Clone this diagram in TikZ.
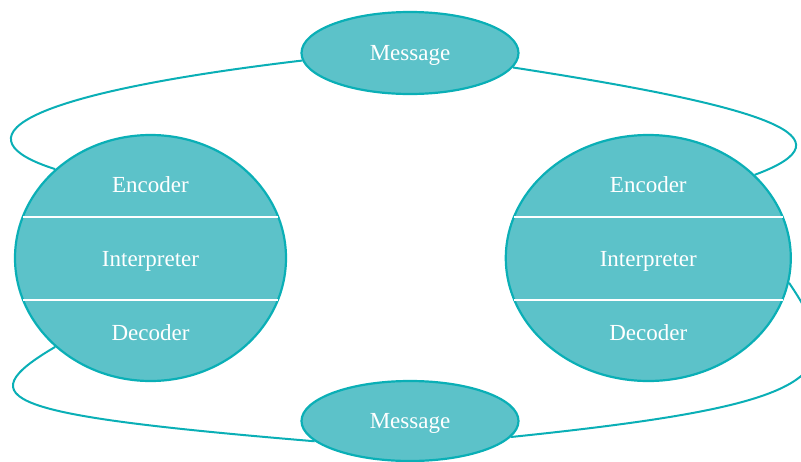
\documentclass[tikz,border=0pt]{standalone}
\usepackage{fontspec}
\setmainfont{Liberation Serif}
\usepackage{tikz}
\usetikzlibrary{shapes,calc}
\definecolor{tealfill}{RGB}{92,194,201}
\definecolor{tealline}{RGB}{10,175,182}
\tikzstyle{party} = [ellipse, draw=tealline, fill=tealfill, line width=2.2pt, minimum width=271pt, minimum height=246pt, inner sep=0pt]
\tikzstyle{message} = [ellipse, draw=tealline, fill=tealfill, line width=2.2pt, minimum width=217pt, minimum height=82pt, inner sep=0pt, text=white, font=\fontsize{23}{27}\selectfont, text height=20pt, text depth=5pt]
\tikzstyle{role} = [text=white, font=\fontsize{23}{27}\selectfont, inner sep=0pt, text height=15pt, text depth=5pt]
\tikzstyle{line} = [draw=tealline, line width=2pt]
\tikzstyle{divider} = [draw=white, line width=2.2pt]

\begin{document}
\begin{tikzpicture}[x=1pt,y=1pt,node distance=74pt]
\useasboundingbox (0,0) rectangle (801,-461);
\node[party] (sender) at (150.5,-258) {};
\node[party,minimum width=285pt] (receiver) at (648.3,-258) {};
\node[message] (top) at (410,-53) {Message};
\node[message,minimum height=80pt] (bottom) at (410,-421) {Message};

\draw[divider] ($(sender.center)+(-127.5,41.3)$) -- ($(sender.center)+(127.5,41.3)$);
\draw[divider] ($(sender.center)+(-127.4,-42)$) -- ($(sender.center)+(127.4,-42)$);
\draw[divider] ($(receiver.center)+(-134.4,41.3)$) -- ($(receiver.center)+(134.4,41.3)$);
\draw[divider] ($(receiver.center)+(-134.3,-42)$) -- ($(receiver.center)+(134.3,-42)$);

\node[role] (interp1) at ([yshift=-3pt]sender.center) {Interpreter};
\node[role,above of=interp1] (enc1) {Encoder};
\node[role,below of=interp1] (dec1) {Decoder};
\node[role] (interp2) at ([yshift=-3pt]receiver.center) {Interpreter};
\node[role,above of=interp2] (enc2) {Encoder};
\node[role,below of=interp2] (dec2) {Decoder};

\path[line] (top.184) .. controls +(-295,-35) and +(-95,30) .. (sender.137);
\path[line] (top.-8) .. controls +(260,-40) and +(100,37) .. (receiver.38);
\path[line] (sender.223) .. controls +(-90,-53) and +(-310,26) .. (bottom.192);
\path[line] (receiver.-10) .. controls +(65,-95) and +(309,32) .. (bottom.-9);
\end{tikzpicture}
\end{document}
